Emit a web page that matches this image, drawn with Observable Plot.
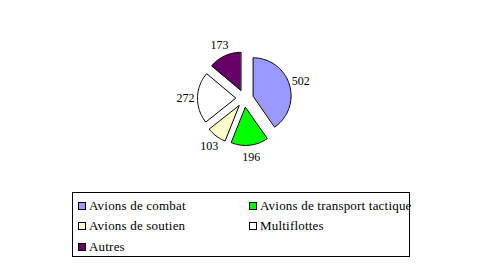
<!DOCTYPE html>
<html><head><meta charset="utf-8">
<script src="https://cdn.jsdelivr.net/npm/d3@7"></script>
<script src="https://cdn.jsdelivr.net/npm/@observablehq/plot@0.6"></script>
<style>
body{margin:0;background:#fff;font-family:"Liberation Serif","Times New Roman",serif;}
#wrap{position:relative;width:490px;height:266px;overflow:hidden;}
#chart{position:absolute;left:0;top:0;}
#legend{position:absolute;left:72px;top:192px;width:338px;height:65px;border:1px solid #000;box-sizing:border-box;}
.item{position:absolute;font-size:13px;letter-spacing:0.2px;line-height:14px;white-space:nowrap;color:#000;}
.sw{display:inline-block;width:6px;height:6px;border:1px solid #000;margin-right:3px;vertical-align:0px;}
</style></head>
<body><div id="wrap"><div id="chart"></div><div id="legend"></div></div>
<script>
const categories = ["Avions de combat","Avions de transport tactique","Avions de soutien","Multiflottes","Autres"];
const values = [502,196,103,272,173];
const colors = ["#9999FF","#00FF00","#FFFFCC","#FFFFFF","#660066"];

const W = 490, H = 266;
const cx = 244, cy = 98, R = 38, OFF = 9, LR = 59;

const arcs = d3.pie().sort(null).value(d => d.value)(categories.map((c,i)=>({key:c,value:values[i]})));
const pts = [];
const labels = [];
arcs.forEach(a => {
  const mid = (a.startAngle + a.endAngle)/2;
  const ox = cx + OFF*Math.sin(mid), oy = cy - OFF*Math.cos(mid);
  pts.push({key:a.data.key, x:ox, y:oy});
  const n = Math.max(2, Math.ceil((a.endAngle - a.startAngle)/(Math.PI/90)));
  for (let k=0;k<=n;k++){
    const t = a.startAngle + (a.endAngle - a.startAngle)*k/n;
    pts.push({key:a.data.key, x:ox + R*Math.sin(t), y:oy - R*Math.cos(t)});
  }
  labels.push({x:cx + LR*Math.sin(mid), y:cy - LR*Math.cos(mid), text:String(a.data.value)});
});

const plot = Plot.plot({
  width: W, height: H, margin: 0,
  x: {domain:[0,W], range:[0,W], axis:null},
  y: {domain:[0,H], range:[0,H], axis:null},
  color: {domain: categories, range: colors},
  style: {background:"transparent", fontFamily:"Liberation Serif, serif"},
  marks: [
    Plot.line(pts, {x:"x", y:"y", z:"key", fill:"key", stroke:"#000", strokeWidth:1, curve:"linear-closed"}),
    Plot.text(labels, {x:"x", y:"y", text:"text", fontSize:12, fill:"#000", textAnchor:"middle", dy:0})
  ]
});
document.getElementById("chart").appendChild(plot);

const legend = document.getElementById("legend");
const pos = [[5,6],[176,6],[5,26],[176,26],[5,47]];
categories.forEach((c,i)=>{
  const d = document.createElement("div");
  d.className="item";
  d.style.left = pos[i][0]+"px"; d.style.top = pos[i][1]+"px";
  d.innerHTML = `<span class="sw" style="background:${colors[i]}"></span>${c}`;
  legend.appendChild(d);
});
</script></body></html>
